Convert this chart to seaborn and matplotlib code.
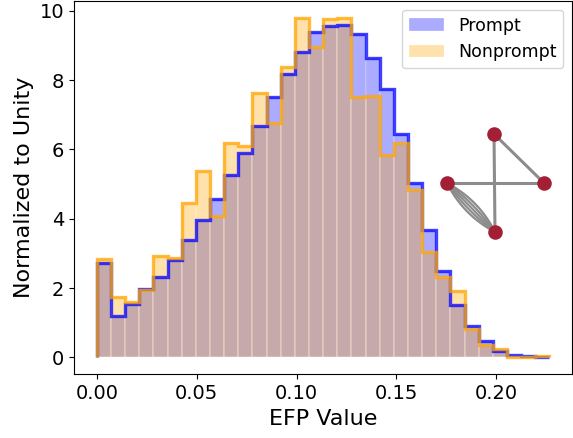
import numpy as np
import pandas as pd
import matplotlib
matplotlib.use("Agg")
import matplotlib.pyplot as plt
import seaborn as sns

# bin layout and normalized heights
bin_lo = 0.0
bin_hi = 0.2266
n_bins = 32

prompt = [2.71, 1.18, 1.54, 1.97, 2.32, 2.82, 3.38, 3.96, 4.56, 5.27, 5.90, 6.68,
          7.52, 8.18, 8.82, 9.40, 9.57, 9.60, 9.33, 8.63, 7.75, 6.45, 5.04, 3.66,
          2.50, 1.50, 0.91, 0.47, 0.18, 0.08, 0.03, 0.02]
nonprompt = [2.85, 1.73, 1.61, 1.94, 2.92, 2.88, 4.44, 5.38, 4.08, 6.19, 6.11, 7.62,
             6.77, 8.37, 9.79, 8.95, 9.76, 9.79, 7.51, 7.55, 5.84, 6.19, 4.83, 3.05,
             2.33, 1.92, 0.83, 0.37, 0.24, 0.01, 0.01, 0.03]
labels = ["Prompt", "Nonprompt"]
colors = ["blue", "orange"]

edges = np.linspace(bin_lo, bin_hi, n_bins + 1)
centers = 0.5 * (edges[:-1] + edges[1:])

fig = plt.figure(figsize=(5.73, 4.38), dpi=100)
ax = fig.add_axes([0.1295, 0.1454, 0.8688, 0.8523])

# filled bars
for vals, lab, col in zip([prompt, nonprompt], labels, colors):
    df = pd.DataFrame({"efp": centers, "w": vals})
    sns.histplot(data=df, x="efp", weights="w", bins=n_bins, binrange=(bin_lo, bin_hi),
                 element="bars", fill=True, color=col, alpha=0.33,
                 edgecolor="white", linewidth=0.2, label=lab, ax=ax)

# step outlines
for vals, col in zip([prompt, nonprompt], colors):
    ax.stairs(vals, edges, color=col, linewidth=2.4, alpha=0.75)

ax.set_xlabel("EFP Value", fontsize=16)
ax.set_ylabel("Normalized to Unity", fontsize=16)
ax.tick_params(labelsize=14)
ax.set_xticks([0.0, 0.05, 0.10, 0.15, 0.20])
ax.set_xticklabels(["0.00", "0.05", "0.10", "0.15", "0.20"])
ax.set_yticks([0, 2, 4, 6, 8, 10])
ax.set_xlim(-0.0113, 0.2379)
ax.set_ylim(-0.49, 10.28)
ax.legend(loc="upper right", fontsize=12.5)

# EFP graph inset (pixel-like coordinates)
ins = fig.add_axes([430 / 573, 1 - 245 / 438, 130 / 573, 125 / 438])
ins.set_xlim(430, 560)
ins.set_ylim(245, 120)
ins.axis("off")
nodes = {"top": (494, 134), "left": (447, 183), "right": (544, 183), "bottom": (495, 232)}
gray = "#8c8c8c"
for a, b in [("top", "bottom"), ("left", "right"), ("top", "right")]:
    ins.plot([nodes[a][0], nodes[b][0]], [nodes[a][1], nodes[b][1]],
             color=gray, lw=2.2, zorder=1)
p0 = np.array(nodes["left"], dtype=float)
p2 = np.array(nodes["bottom"], dtype=float)
mid = 0.5 * (p0 + p2)
d = p2 - p0
perp = np.array([-d[1], d[0]]) / np.linalg.norm(d)
t = np.linspace(0, 1, 50)[:, None]
for off in [-11, -5.5, 0, 5.5, 11]:
    p1 = mid + perp * off
    curve = (1 - t) ** 2 * p0 + 2 * (1 - t) * t * p1 + t ** 2 * p2
    ins.plot(curve[:, 0], curve[:, 1], color=gray, lw=1.6, zorder=1)
xs = [v[0] for v in nodes.values()]
ys = [v[1] for v in nodes.values()]
ins.scatter(xs, ys, s=110, color="#a31f34", zorder=3, linewidths=0)

fig.savefig("out.png", dpi=100)
